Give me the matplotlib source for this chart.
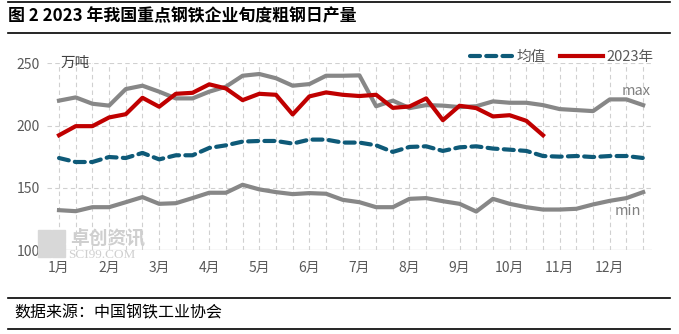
import numpy as np
import matplotlib
matplotlib.use("Agg")
import matplotlib.pyplot as plt

plt.rcParams['font.family'] = ['Noto Sans CJK SC', 'DejaVu Sans']

# 旬度数据 (36 旬), 万吨
max_vals = [220, 222.6, 217.5, 216, 229.3, 232, 227.2, 221.8, 221.8,
            227.2, 231.2, 240, 241.4, 238, 232, 233.3, 240, 240,
            240.3, 215.5, 220, 214, 216.4, 216, 214.8, 215.5, 219.4,
            218.3, 218.3, 216.4, 213.2, 212.4, 211.6, 221, 221, 216.4]
avg_vals = [173.9, 170.7, 170.7, 174.7, 173.9, 178, 172.8, 176.1, 176.1,
            182, 184.1, 187.1, 187.6, 187.6, 185.5, 188.7, 188.7, 186.3,
            186.3, 184.1, 178.8, 182.8, 183.3, 179.6, 182.5, 183.3, 181.5,
            180.6, 179.6, 175.5, 175, 175.5, 174.7, 175.5, 175.5, 173.9]
min_vals = [132, 131.2, 134.4, 134.4, 138.4, 142.5, 137.1, 137.6, 141.7,
            146, 146, 152.4, 148.7, 146.5, 144.9, 145.7, 145.2, 140.3,
            138.4, 134.4, 134.4, 141.1, 141.7, 139.2, 137.1, 130.9, 141.1,
            137.1, 134.4, 132.5, 132.5, 133.1, 136.6, 139.5, 141.7, 146.5]
y2023 = [192.2, 199.5, 199.5, 206.5, 209.1, 222.3, 215.1, 225.5, 226.3,
         233.1, 229.8, 220.4, 225.5, 224.7, 208.9, 223.4, 226.6, 224.7,
         223.7, 224.7, 214.2, 215.3, 221.8, 204.3, 215.9, 214, 207.3,
         208.3, 203.8, 192.2]
months = [f"{m}月" for m in range(1, 13)]

W, H = 679, 334
fig = plt.figure(figsize=(W / 100, H / 100), dpi=100)
ax = fig.add_axes([47 / W, 1 - 250 / H, (652 - 47) / W, (250 - 63.3) / H])

x = np.arange(len(max_vals))
x23 = np.arange(len(y2023))

grid_c = '#d0d0d0'
for xi in x:
    ax.plot([xi, xi], [100, 250], color=grid_c, lw=0.8, ls=(0, (4, 3)), zorder=0)
for yv in [150, 200, 250]:
    ax.axhline(yv, color=grid_c, lw=0.8, ls=(0, (4, 3)), zorder=0)
ax.axhline(100, color='#d9d9d9', lw=1.0, zorder=0)

gray = '#878787'
ax.plot(x, max_vals, color=gray, lw=3, solid_joinstyle='round', zorder=2)
ax.plot(x, min_vals, color=gray, lw=3, solid_joinstyle='round', zorder=2)
ax.plot(x, avg_vals, color='#0e5a78', lw=3, ls=(0, (2.4, 1.5)),
        dash_capstyle='round', zorder=3, label='均值')
ax.plot(x23, y2023, color='#c00000', lw=3, solid_joinstyle='round',
        zorder=4, label='2023年')

ax.set_xlim(-0.72, 35.53)
ax.set_ylim(100, 250)
for s in ax.spines.values():
    s.set_visible(False)
ax.set_yticks([100, 150, 200, 250])
ax.set_xticks(np.arange(0, 36, 3))
ax.set_xticklabels(months)
ax.tick_params(length=0, labelsize=10, colors='#595959', pad=8)
ax.tick_params(axis='y', pad=5)

ax.text(0.1, 250, '万吨', fontsize=10.5, color='#404040', va='center', ha='left')
ax.text(34.6, 222.5, 'max', fontsize=10.5, color='#808080', ha='center', va='bottom')
ax.text(34.1, 131, 'min', fontsize=10.5, color='#808080', ha='center', va='center')

leg = ax.legend(loc='upper right', bbox_to_anchor=(1.025, 1.14), ncol=2, frameon=False,
                fontsize=10.5, handlelength=2.9, columnspacing=1.0, handletextpad=0.3,
                labelcolor='#595959')

# 水印
wm = '#cfcfcf'
fig.text(70 / W, 1 - 238 / H, '卓创资讯', fontsize=13.5, color=wm,
         fontweight='bold', va='center', ha='left')
fig.text(68 / W, 1 - 255.5 / H, 'SCI99.COM', fontsize=9.5, color=wm,
         family='Liberation Serif', va='center', ha='left')
for (px, py, s) in [(38, 230, 13), (52, 230, 13), (38, 244, 13), (52, 244, 13)]:
    fig.patches.append(plt.Rectangle((px / W, 1 - (py + s) / H), s / W, s / H,
                                     transform=fig.transFigure, color='#d8d8d8', zorder=0))

# 标题和边线
fig.text(8 / W, 1 - 16 / H, '图 2 2023 年我国重点钢铁企业旬度粗钢日产量',
         fontsize=12.2, fontweight='bold', color='black', va='center', ha='left')
fig.text(14 / W, 1 - 313 / H, '数据来源：中国钢铁工业协会', fontsize=11.5,
         color='black', va='center', ha='left')
for yl in [1.5, 33, 298, 329]:
    fig.add_artist(plt.Line2D([8 / W, 670 / W], [1 - yl / H, 1 - yl / H],
                              color='black', lw=1.2, transform=fig.transFigure))

fig.savefig('out.png', dpi=100)
